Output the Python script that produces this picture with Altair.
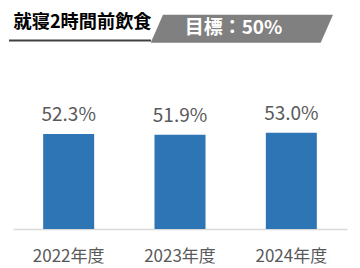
import altair as alt
import pandas as pd

years = ["2022年度", "2023年度", "2024年度"]
values = [52.3, 51.9, 53.0]
title_text = "就寝2時間前飲食"
goal_text = "目標：50%"

FONT = "Noto Sans CJK JP"

df = pd.DataFrame({"year": years, "value": values})
df["label"] = [f"{v:.1f}%" for v in values]

xenc = alt.X("year:N", sort=years, scale=alt.Scale(paddingInner=0, paddingOuter=0),
             axis=alt.Axis(title=None, labelAngle=0, ticks=False, labelPadding=32,
                           labelBaseline="alphabetic", labelFontSize=17,
                           labelColor="#595959", labelFont=FONT,
                           domainColor="#d9d9d9", domainWidth=1.5, grid=False))
yenc = alt.Y("value:Q", scale=alt.Scale(domain=[0, 60]), axis=None)

bars = alt.Chart(df).mark_bar(size=51, color="#2E75B6").encode(x=xenc, y=yenc)

labels = alt.Chart(df).mark_text(
    baseline="alphabetic", dy=-13, fontSize=19, color="#595959", font=FONT
).encode(
    x=alt.X("year:N", sort=years, scale=alt.Scale(paddingInner=0, paddingOuter=0), axis=None),
    y=alt.Y("value:Q", scale=alt.Scale(domain=[0, 60]), axis=None),
    text="label:N",
)

# header decoration: slanted badge drawn as a custom symbol
badge_shape = "M-1,0.1536 L-0.865,-0.1536 L1,-0.1536 L0.865,0.1536 Z"
badge = alt.Chart(pd.DataFrame({"a": [0]})).mark_point(
    shape=badge_shape, filled=True, fill="#808080", color="#808080",
    strokeWidth=0, opacity=1, size=33233
).encode(x=alt.value(228.85), y=alt.value(-91.3))

underline = alt.Chart(pd.DataFrame({"a": [0]})).mark_rule(color="#404040", strokeWidth=2).encode(
    x=alt.value(-4), x2=alt.value(138), y=alt.value(-79.5)
)

title = alt.Chart(pd.DataFrame({"t": [title_text]})).mark_text(
    align="left", baseline="middle", fontSize=18.2, fontWeight="bold", color="#000000", font=FONT
).encode(x=alt.value(0.5), y=alt.value(-97), text="t:N")

goal = alt.Chart(pd.DataFrame({"t": [goal_text]})).mark_text(
    align="center", baseline="middle", fontSize=19, fontWeight="bold", color="#ffffff", font=FONT
).encode(x=alt.value(220.5), y=alt.value(-92), text="t:N")

chart = alt.layer(bars, labels, badge, underline, title, goal).resolve_scale(
    x="independent", y="independent"
).properties(
    width=334, height=109,
    autosize=alt.AutoSizeParams(type="none"),
    padding={"left": 13, "top": 120, "right": 13, "bottom": 39},
    background="#ffffff",
).configure_view(stroke=None)

chart.save("out.html", embed_options={"renderer": "svg", "actions": False})
